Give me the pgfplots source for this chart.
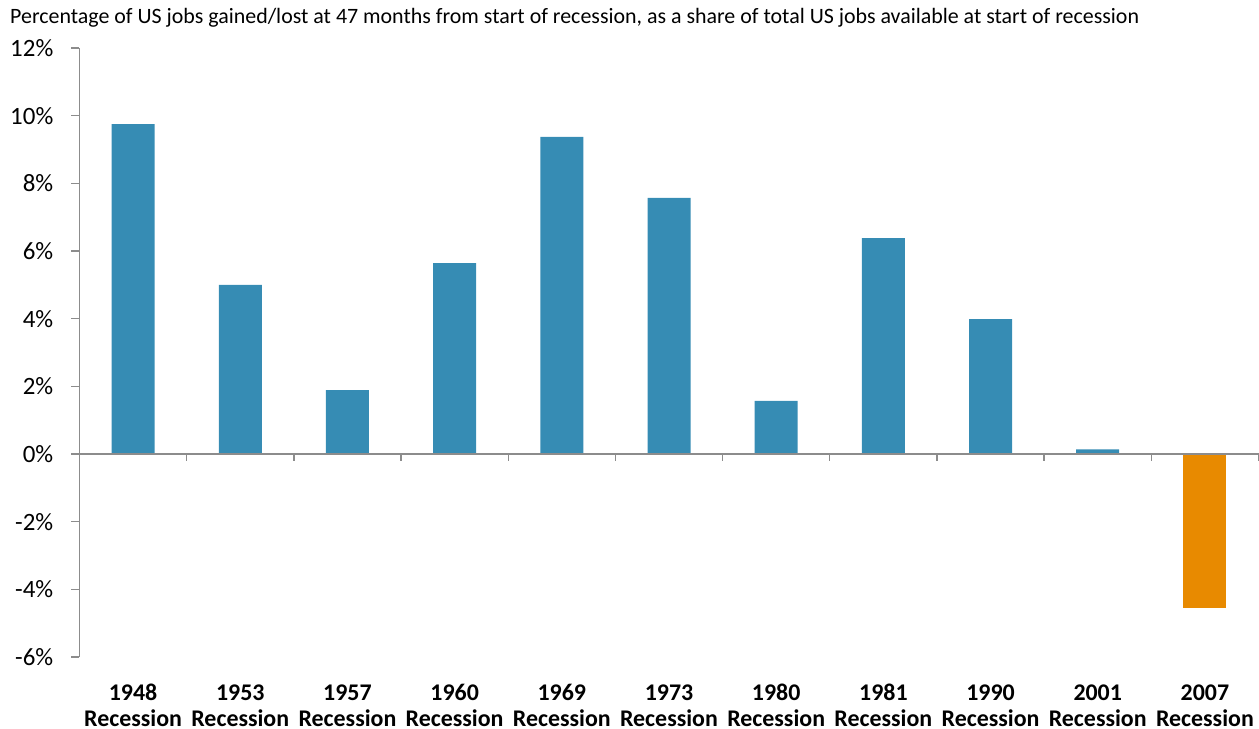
\documentclass[border=0pt]{standalone}
\usepackage{pgfplots}
\pgfplotsset{compat=1.18}
\usepackage{fontspec}
\setmainfont{Carlito}
\definecolor{barblue}{HTML}{368CB4}
\definecolor{barorange}{HTML}{E88A00}
\definecolor{axgray}{HTML}{8C8C8C}
\begin{document}
\begin{tikzpicture}
\begin{axis}[
  scale only axis, width=1179bp, height=609bp,
  xmin=-0.5, xmax=10.5, ymin=-6, ymax=12,
  ybar, bar width=43bp, bar shift=0pt,
  clip=false,
  separate axis lines,
  axis x line*=bottom, axis y line*=left,
  x axis line style={draw=none},
  y axis line style={axgray, line width=1.3bp},
  tick align=outside, major tick length=8bp,
  ytick={-6,-4,...,12},
  yticklabels={-6\%,-4\%,-2\%,0\%,2\%,4\%,6\%,8\%,10\%,12\%},
  ytick style={axgray, line width=1.3bp},
  yticklabel style={font=\fontsize{25}{28}\selectfont, inner sep=0pt, xshift=-18bp},
  xtick={0,...,10},
  xtick style={draw=none},
  xticklabels={{\strut 1948\\Recession},{\strut 1953\\Recession},{\strut 1957\\Recession},{\strut 1960\\Recession},{\strut 1969\\Recession},{\strut 1973\\Recession},{\strut 1980\\Recession},{\strut 1981\\Recession},{\strut 1990\\Recession},{\strut 2001\\Recession},{\strut 2007\\Recession}},
  xticklabel style={font=\fontsize{24}{27}\selectfont\bfseries, align=center, inner sep=0pt, yshift=-16bp},
]
\addplot[fill=barblue, draw=none] coordinates {
  (0,9.75) (1,5.00) (2,1.89) (3,5.64) (4,9.37) (5,7.57) (6,1.57) (7,6.38) (8,3.99) (9,0.14)
};
\addplot[fill=barorange, draw=none] coordinates { (10,-4.54) };
\draw[axgray, line width=1.3bp] (axis cs:-0.5,0) -- (axis cs:10.5,0);
\pgfplotsinvokeforeach{-0.5,0.5,1.5,2.5,3.5,4.5,5.5,6.5,7.5,8.5,9.5,10.5}{
  \draw[axgray, line width=1.3bp] (axis cs:#1,0) -- ([yshift=-7bp]axis cs:#1,0);
}
\node[anchor=base west, font=\fontsize{22}{26}\selectfont, inner sep=0pt] at ([xshift=-69.5bp,yshift=24bp]rel axis cs:0,1) {Percentage of US jobs gained/lost at 47 months from start of recession, as a share of total US jobs available at start of recession};
\coordinate (bbl) at ([xshift=-79.5bp,yshift=-72bp]rel axis cs:0,0);
\coordinate (btr) at ([xshift=0.5bp,yshift=48bp]rel axis cs:1,1);
\end{axis}
\pgfresetboundingbox
\path (bbl) rectangle (btr);
\end{tikzpicture}
\end{document}
